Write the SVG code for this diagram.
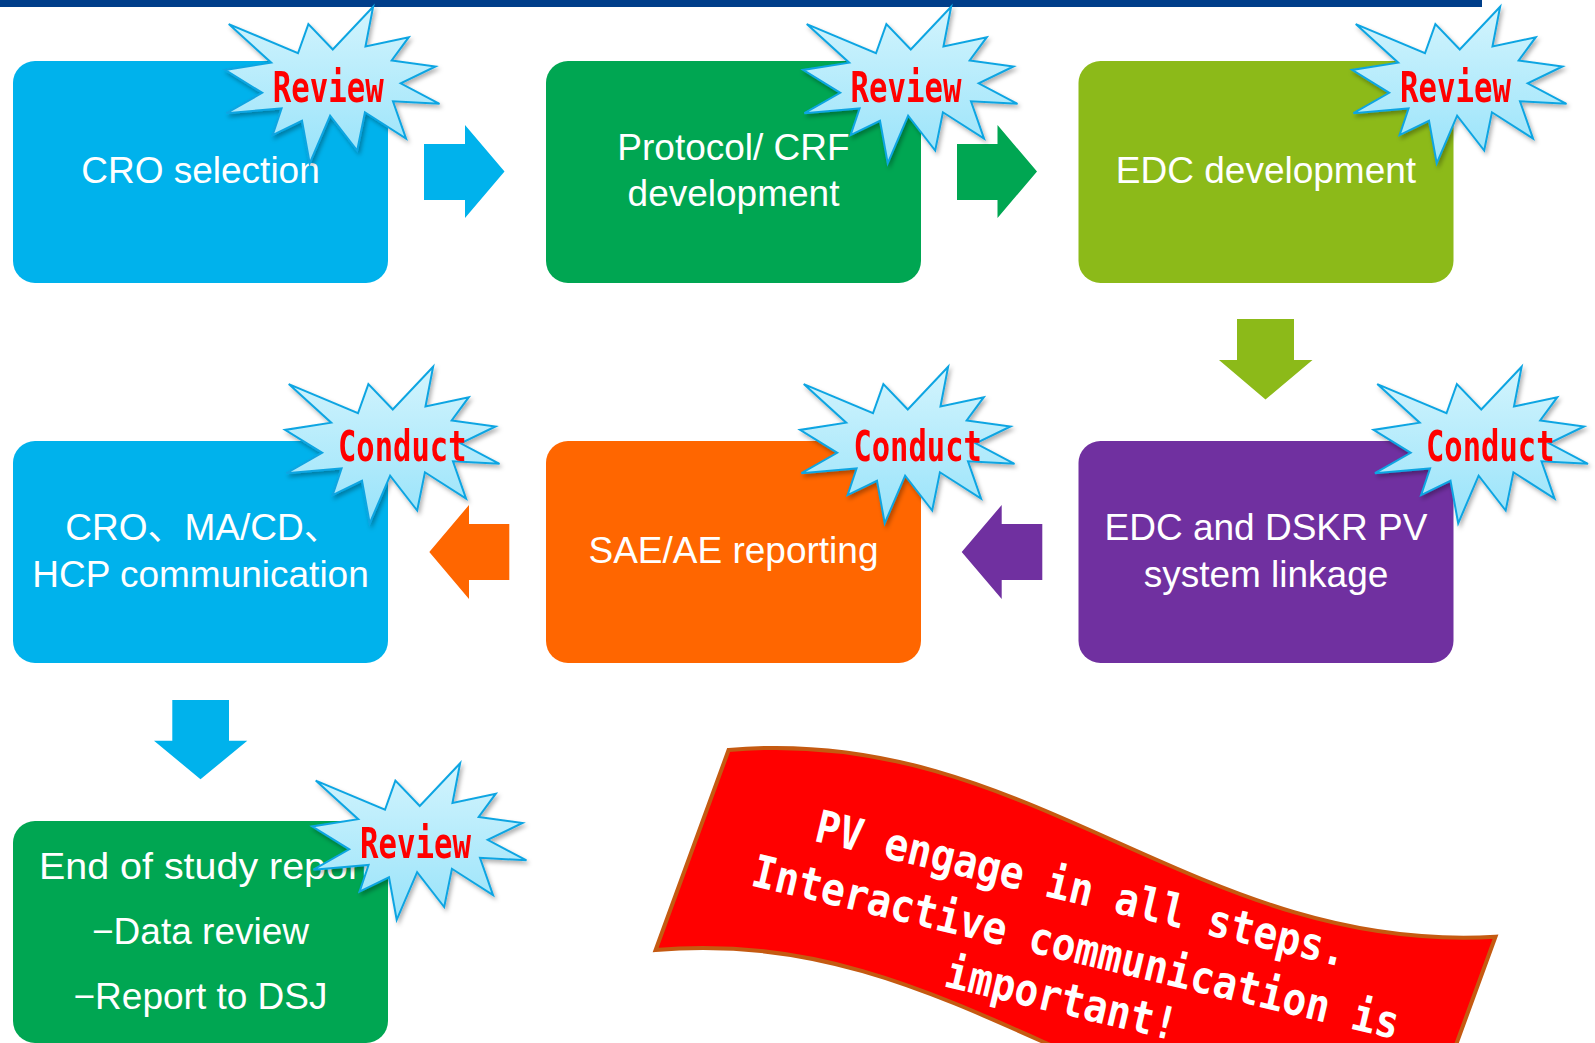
<svg xmlns="http://www.w3.org/2000/svg" xmlns:xlink="http://www.w3.org/1999/xlink" width="1595" height="1043" viewBox="0 0 1595 1043">
  <style>
    .box-text { font-family: "Liberation Sans", "Noto Sans CJK JP", sans-serif; font-size: 37px; fill: #ffffff; text-anchor: middle; }
    .burst-text { font-family: "DejaVu Sans Mono", "Liberation Mono", monospace; font-weight: bold; font-size: 42px; fill: #ff0000; }
    .banner-text { font-family: "DejaVu Sans Mono", "Liberation Mono", monospace; font-weight: bold; font-size: 45px; fill: #ffffff; text-anchor: middle; }
    .burst { fill: url(#burstGrad); stroke: #0fa5e2; stroke-width: 2; stroke-linejoin: miter; }
  </style>
  <defs>
    <linearGradient id="burstGrad" x1="0" y1="0" x2="0" y2="1">
      <stop offset="0" stop-color="#d3f4fd"/>
      <stop offset="1" stop-color="#98e3fa"/>
    </linearGradient>
    <filter id="shadow" x="-10%" y="-10%" width="130%" height="130%">
      <feDropShadow dx="2" dy="3" stdDeviation="2" flood-color="#000000" flood-opacity="0.3"/>
    </filter>
    <polygon id="seal" class="burst" points="108.76,42.81 84.38,17.39 74.00,46.58 4.75,17.39 47.21,55.98 1.06,63.21 38.19,86.13 2.42,106.50 57.59,101.80 48.57,128.46 78.01,114.04 85.70,156.60 106.12,109.03 133.18,143.84 140.92,105.57 182.06,131.91 168.99,94.57 215.50,97.10 176.69,76.70 211.49,59.75 167.67,53.77 184.79,30.51 141.47,39.81 149.13,0"/>
  </defs>

  <rect x="0" y="0" width="1482" height="7" fill="#003e8a"/>

  <g id="connectors">
    <polygon fill="#00b2ec" points="424,144 465,144 465,125 504.5,171.5 465,218 465,200 424,200"/>
    <polygon fill="#00a652" points="957,144 997.5,144 997.5,125 1037,171.5 997.5,218 997.5,200 957,200"/>
    <polygon fill="#8cba19" points="1237,319 1294,319 1294,360 1312.5,360 1265.5,399.5 1219,360 1237,360"/>
    <polygon fill="#7030a0" points="1042.3,524 1001.7,524 1001.7,505 961.7,552 1001.7,599 1001.7,580 1042.3,580"/>
    <polygon fill="#ff6600" points="509.3,524 469,524 469,505 429.3,552 469,599 469,580 509.3,580"/>
    <polygon fill="#00b2ec" points="172.3,700 229,700 229,740.7 247.3,740.7 200.5,779.3 154,740.7 172.3,740.7"/>
  </g>

  <g id="node-cro-selection">
    <rect x="13" y="61" width="375" height="222" rx="22" fill="#00b2ec"/>
    <text class="box-text" x="200.5" y="183">CRO selection</text>
  </g>
  <g id="node-protocol">
    <rect x="546" y="61" width="375" height="222" rx="22" fill="#00a652"/>
    <text class="box-text" x="733.5" y="159.5">Protocol/ CRF</text>
    <text class="box-text" x="733.5" y="205.5">development</text>
  </g>
  <g id="node-edc-dev">
    <rect x="1078.5" y="61" width="375" height="222" rx="22" fill="#8cba19"/>
    <text class="box-text" x="1266" y="183">EDC development</text>
  </g>
  <g id="node-cro-comm">
    <rect x="13" y="441" width="375" height="222" rx="22" fill="#00b2ec"/>
    <text class="box-text" x="203" y="540">CRO、MA/CD、</text>
    <text class="box-text" x="200.5" y="587">HCP communication</text>
  </g>
  <g id="node-sae">
    <rect x="546" y="441" width="375" height="222" rx="22" fill="#ff6600"/>
    <text class="box-text" x="733.5" y="563">SAE/AE reporting</text>
  </g>
  <g id="node-edc-link">
    <rect x="1078.5" y="441" width="375" height="222" rx="22" fill="#7030a0"/>
    <text class="box-text" x="1266" y="540">EDC and DSKR PV</text>
    <text class="box-text" x="1266" y="587">system linkage</text>
  </g>
  <g id="node-end-report">
    <rect x="13" y="821" width="375" height="222" rx="22" fill="#00a652"/>
    <text class="box-text" x="205.5" y="879" textLength="333" lengthAdjust="spacingAndGlyphs">End of study report</text>
    <text class="box-text" x="200.5" y="944">−Data review</text>
    <text class="box-text" x="200.5" y="1009">−Report to DSJ</text>
  </g>

  <g id="burst-review-1" filter="url(#shadow)">
    <use xlink:href="#seal" href="#seal" transform="translate(224,6.7)"/>
    <text class="burst-text" x="272.7" y="101.7" textLength="111" lengthAdjust="spacingAndGlyphs">Review</text>
  </g>
  <g id="burst-review-2" filter="url(#shadow)">
    <use xlink:href="#seal" href="#seal" transform="translate(802,6.7)"/>
    <text class="burst-text" x="850.5" y="101.7" textLength="111" lengthAdjust="spacingAndGlyphs">Review</text>
  </g>
  <g id="burst-review-3" filter="url(#shadow)">
    <use xlink:href="#seal" href="#seal" transform="translate(1351,6.7)"/>
    <text class="burst-text" x="1400" y="101.7" textLength="111" lengthAdjust="spacingAndGlyphs">Review</text>
  </g>
  <g id="burst-conduct-1" filter="url(#shadow)">
    <use xlink:href="#seal" href="#seal" transform="translate(284,366.7)"/>
    <text class="burst-text" x="338" y="460.7" textLength="128.5" lengthAdjust="spacingAndGlyphs">Conduct</text>
  </g>
  <g id="burst-conduct-2" filter="url(#shadow)">
    <use xlink:href="#seal" href="#seal" transform="translate(799,366.7)"/>
    <text class="burst-text" x="853.4" y="460.7" textLength="128.5" lengthAdjust="spacingAndGlyphs">Conduct</text>
  </g>
  <g id="burst-conduct-3" filter="url(#shadow)">
    <use xlink:href="#seal" href="#seal" transform="translate(1372.5,366.7)"/>
    <text class="burst-text" x="1426" y="460.7" textLength="128.5" lengthAdjust="spacingAndGlyphs">Conduct</text>
  </g>
  <g id="burst-review-4" filter="url(#shadow)">
    <use xlink:href="#seal" href="#seal" transform="translate(311,763.2)"/>
    <text class="burst-text" x="360" y="858" textLength="111" lengthAdjust="spacingAndGlyphs">Review</text>
  </g>

  <g id="banner">
    <path d="M728.6,750 C1028.6,723 1195.5,954.7 1495.5,936.7 L1422.5,1136.7 C1122.5,1154.7 955.6,923 655.6,950 Z" fill="#ff0000" stroke="#c55a11" stroke-width="4" stroke-linejoin="miter"/>
    <g transform="translate(1078,904) rotate(13.4)">
      <text class="banner-text" x="0" y="0" textLength="545" lengthAdjust="spacingAndGlyphs">PV engage in all steps.</text>
      <text class="banner-text" x="8" y="58" textLength="664" lengthAdjust="spacingAndGlyphs">Interactive communication is</text>
      <text class="banner-text" x="6" y="111" textLength="237" lengthAdjust="spacingAndGlyphs">important!</text>
    </g>
  </g>
</svg>
